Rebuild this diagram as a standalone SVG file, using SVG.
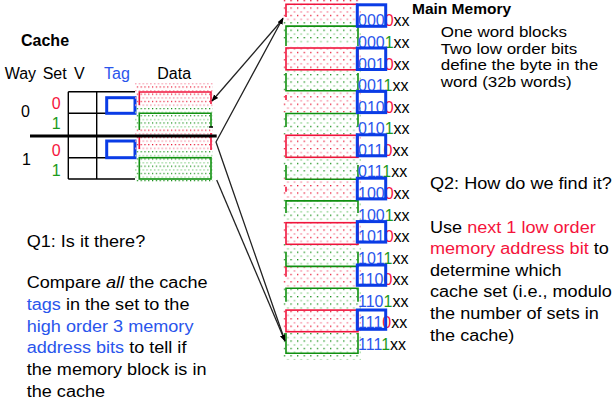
<svg xmlns="http://www.w3.org/2000/svg" width="616" height="406" viewBox="0 0 616 406">
<defs>
<style>
text{font-family:"Liberation Sans",Arial,sans-serif;font-size:16px;fill:#000}
.bd{font-weight:bold}
.bl{fill:#2a55ec}
.rd{fill:#f5143c}
.gn{fill:#1c9a1c}
.it{font-style:italic}
.nt{font-size:14.5px}
.ln{stroke:#000;stroke-width:1.4;fill:none}
.rs{stroke:#f0143c;stroke-width:1.6;fill:none}
.gs{stroke:#109010;stroke-width:1.6;fill:none}
.tb{stroke:#0a3ce6;stroke-width:3;fill:none}
.cn{stroke:#222;stroke-width:1.3;fill:none}
</style>
<pattern id="pr" width="6.6" height="7.4" patternUnits="userSpaceOnUse"><rect x="0" y="0" width="1.3" height="1.3" fill="#e8102e"/><rect x="3.3" y="3.7" width="1.7" height="1.7" fill="#f8a4b4"/></pattern>
<pattern id="pg" width="6.6" height="7.4" patternUnits="userSpaceOnUse"><rect x="0" y="0" width="1.3" height="1.3" fill="#108c10"/><rect x="3.3" y="3.7" width="1.7" height="1.7" fill="#a6dca6"/></pattern>
<pattern id="cr" width="3.8" height="7.2" patternUnits="userSpaceOnUse"><rect x="0" y="0" width="1.2" height="1.2" fill="#e8102e"/><rect x="1.9" y="3.6" width="1.5" height="1.5" fill="#f8a4b4"/></pattern>
<pattern id="cg" width="3.8" height="7.2" patternUnits="userSpaceOnUse"><rect x="0" y="0" width="1.2" height="1.2" fill="#108c10"/><rect x="1.9" y="3.6" width="1.5" height="1.5" fill="#a6dca6"/></pattern>
<marker id="ah" viewBox="0 0 10 10" refX="9" refY="5" markerWidth="7" markerHeight="7" markerUnits="userSpaceOnUse" orient="auto"><path d="M0,1 L10,5 L0,9 z" fill="#000"/></marker>
</defs>
<rect width="616" height="406" fill="#fff"/>

<g id="cache">
<text class="bd" x="21" y="45.7">Cache</text>
<text x="4.7" y="79">Way</text>
<text x="42.7" y="79">Set</text>
<text x="74" y="79">V</text>
<text class="bl" x="104" y="79">Tag</text>
<text x="157.3" y="79">Data</text>
<text x="21" y="116.7">0</text>
<text x="22" y="165">1</text>
<text class="rd" x="51.7" y="109">0</text>
<text class="gn" x="51.7" y="129">1</text>
<text class="rd" x="51.7" y="156">0</text>
<text class="gn" x="51.7" y="175.7">1</text>
<g id="cache-table">
<path class="ln" d="M68.3,91.7 V179 M96.7,91.7 V179 M68.3,91.7 H135 M68.3,113.3 H135 M68.3,157.7 H135 M68.3,179 H135"/>
<rect class="tb" x="106.7" y="97.7" width="28.3" height="15.6"/>
<rect class="tb" x="106.7" y="141" width="28.3" height="16.7"/>
</g>
<g id="cache-data">
<rect x="135" y="83" width="78" height="23" fill="url(#cr)"/>
<rect x="135" y="106" width="78" height="22" fill="url(#cg)"/>
<rect x="135" y="128" width="78" height="22" fill="url(#cr)"/>
<rect x="135" y="150" width="78" height="32" fill="url(#cg)"/>
<path class="rs" d="M139.3,105 V92 H211 V104"/>
<path class="gs" d="M139.3,130 V113.3 H211 V127"/>
<path class="rs" d="M139.3,136 V149 M211,133 V150"/>
<rect class="gs" x="139.3" y="157.7" width="71.7" height="21.3"/>
</g>
<path d="M30,136 H216.7" stroke="#000" stroke-width="3"/>
</g>

<g id="memory">
<text class="bd" x="412" y="14.2" style="font-size:15.5px">Main Memory</text>
<g id="mem-fill">
<rect x="283" y="0" width="78" height="22" fill="url(#pr)"/>
<rect x="283" y="22" width="78" height="22" fill="url(#pg)"/>
<rect x="283" y="46" width="78" height="22" fill="url(#pr)"/>
<rect x="283" y="68" width="78" height="22" fill="url(#pg)"/>
<rect x="283" y="90" width="78" height="22" fill="url(#pr)"/>
<rect x="283" y="112" width="78" height="22" fill="url(#pg)"/>
<rect x="283" y="134" width="78" height="22" fill="url(#pr)"/>
<rect x="283" y="156" width="78" height="22" fill="url(#pg)"/>
<rect x="283" y="178" width="78" height="22" fill="url(#pr)"/>
<rect x="283" y="200" width="78" height="22" fill="url(#pg)"/>
<rect x="283" y="222" width="78" height="22" fill="url(#pr)"/>
<rect x="283" y="244" width="78" height="22" fill="url(#pg)"/>
<rect x="283" y="266" width="78" height="22" fill="url(#pr)"/>
<rect x="283" y="288" width="78" height="22" fill="url(#pg)"/>
<rect x="283" y="310" width="78" height="22" fill="url(#pr)"/>
<rect x="283" y="332" width="78" height="28" fill="url(#pg)"/>
</g>
<g id="mem-blocks">
<path class="rs" d="M286,17 V4.3 H358"/>
<path class="gs" d="M286,46 V26.1 H358 V46"/>
<rect class="rs" x="286" y="48" width="72" height="21.8"/>
<path class="gs" d="M286,73 V90.7 H358 V73"/>
<path class="rs" d="M286,95 V100"/>
<path class="gs" d="M286,127 V113.5 H358 V127"/>
<rect class="rs" x="286" y="135.3" width="72" height="22"/>
<path class="gs" d="M286,165 V179.3 H358 V165"/>
<path class="rs" d="M286,186.7 V191.7"/>
<path class="gs" d="M286,213 V200.9 H358 V213"/>
<rect class="rs" x="286" y="222.7" width="72" height="21.6"/>
<path class="gs" d="M286,251.7 V266.4 H358 V251.7"/>
<path class="rs" d="M286,266.7 V276.7"/>
<path class="gs" d="M286,301.7 V288.2 H358 V301.7"/>
<rect class="rs" x="286" y="310.1" width="72" height="21.6"/>
<path class="gs" d="M286,333 V353.3 H358 V333"/>
</g>
<g id="mem-addr">
<text x="358" y="26.3"><tspan class="bl">000</tspan><tspan class="rd">0</tspan>xx</text>
<text x="358" y="47.9"><tspan class="bl">000</tspan><tspan class="gn">1</tspan>xx</text>
<text x="358" y="69.5"><tspan class="bl">001</tspan><tspan class="rd">0</tspan>xx</text>
<text x="358" y="91"><tspan class="bl">001</tspan><tspan class="gn">1</tspan>xx</text>
<text x="358" y="112.6"><tspan class="bl">010</tspan><tspan class="rd">0</tspan>xx</text>
<text x="358" y="134.2"><tspan class="bl">010</tspan><tspan class="gn">1</tspan>xx</text>
<text x="358" y="155.8"><tspan class="bl">011</tspan><tspan class="rd">0</tspan>xx</text>
<text x="358" y="177.4"><tspan class="bl">011</tspan><tspan class="gn">1</tspan>xx</text>
<text x="358" y="198.9"><tspan class="bl">100</tspan><tspan class="rd">0</tspan>xx</text>
<text x="358" y="220.5"><tspan class="bl">100</tspan><tspan class="gn">1</tspan>xx</text>
<text x="358" y="242.1"><tspan class="bl">101</tspan><tspan class="rd">0</tspan>xx</text>
<text x="358" y="263.7"><tspan class="bl">101</tspan><tspan class="gn">1</tspan>xx</text>
<text x="358" y="285.3"><tspan class="bl">110</tspan><tspan class="rd">0</tspan>xx</text>
<text x="358" y="306.8"><tspan class="bl">110</tspan><tspan class="gn">1</tspan>xx</text>
<text x="358" y="328.4"><tspan class="bl">111</tspan><tspan class="rd">0</tspan>xx</text>
<text x="358" y="350"><tspan class="bl">111</tspan><tspan class="gn">1</tspan>xx</text>
</g>
<g id="mem-tags">
<rect class="tb" x="357.3" y="4.8" width="28.4" height="21.5"/>
<rect class="tb" x="357.3" y="48" width="28.4" height="21.5"/>
<rect class="tb" x="357.3" y="91.4" width="28.4" height="21.2"/>
<rect class="tb" x="357.3" y="134.8" width="28.4" height="21"/>
<rect class="tb" x="357.3" y="178.2" width="28.4" height="20.7"/>
<rect class="tb" x="357.3" y="221.6" width="28.4" height="20.5"/>
<rect class="tb" x="357.3" y="265" width="28.4" height="20.3"/>
<rect class="tb" x="357.3" y="310" width="28.4" height="19.3"/>
</g>
</g>

<g id="connectors">
<path class="cn" d="M283,19 L212,101" marker-end="url(#ah)"/>
<path class="cn" d="M285,341 L216,142 L283,18" marker-end="url(#ah)"/>
<path class="cn" d="M216.7,180 L285,341" marker-end="url(#ah)"/>
<path d="M209,127 H213" stroke="#000" stroke-width="1.5"/>
</g>

<g id="note" transform="translate(440.7 0) scale(1.17 1)">
<text class="nt" x="0" y="36.8">One word blocks</text>
<text class="nt" x="0" y="53.6">Two low order bits</text>
<text class="nt" x="0" y="70.4">define the byte in the</text>
<text class="nt" x="0" y="87.2">word (32b words)</text>
</g>

<g id="q1" transform="translate(26.7 0) scale(1.13 1)">
<text x="0" y="246.7">Q1: Is it there?</text>
<text x="0" y="288.3">Compare <tspan class="it">all</tspan> the cache</text>
<text x="0" y="310"><tspan class="bl">tags</tspan> in the set to the</text>
<text x="0" y="331.7"><tspan class="bl">high order 3 memory</tspan></text>
<text x="0" y="353.3"><tspan class="bl">address bits</tspan> to tell if</text>
<text x="0" y="375">the memory block is in</text>
<text x="0" y="396.7">the cache</text>
</g>

<g id="q2" transform="translate(430 0) scale(1.13 1)">
<text x="0" y="189.3">Q2: How do we find it?</text>
<text x="0" y="232.7">Use <tspan class="rd">next 1 low order</tspan></text>
<text x="0" y="254.3"><tspan class="rd">memory address bit</tspan> to</text>
<text x="0" y="275.9">determine which</text>
<text x="0" y="297.5">cache set (i.e., modulo</text>
<text x="0" y="319.1">the number of sets in</text>
<text x="0" y="340.7">the cache)</text>
</g>
</svg>
